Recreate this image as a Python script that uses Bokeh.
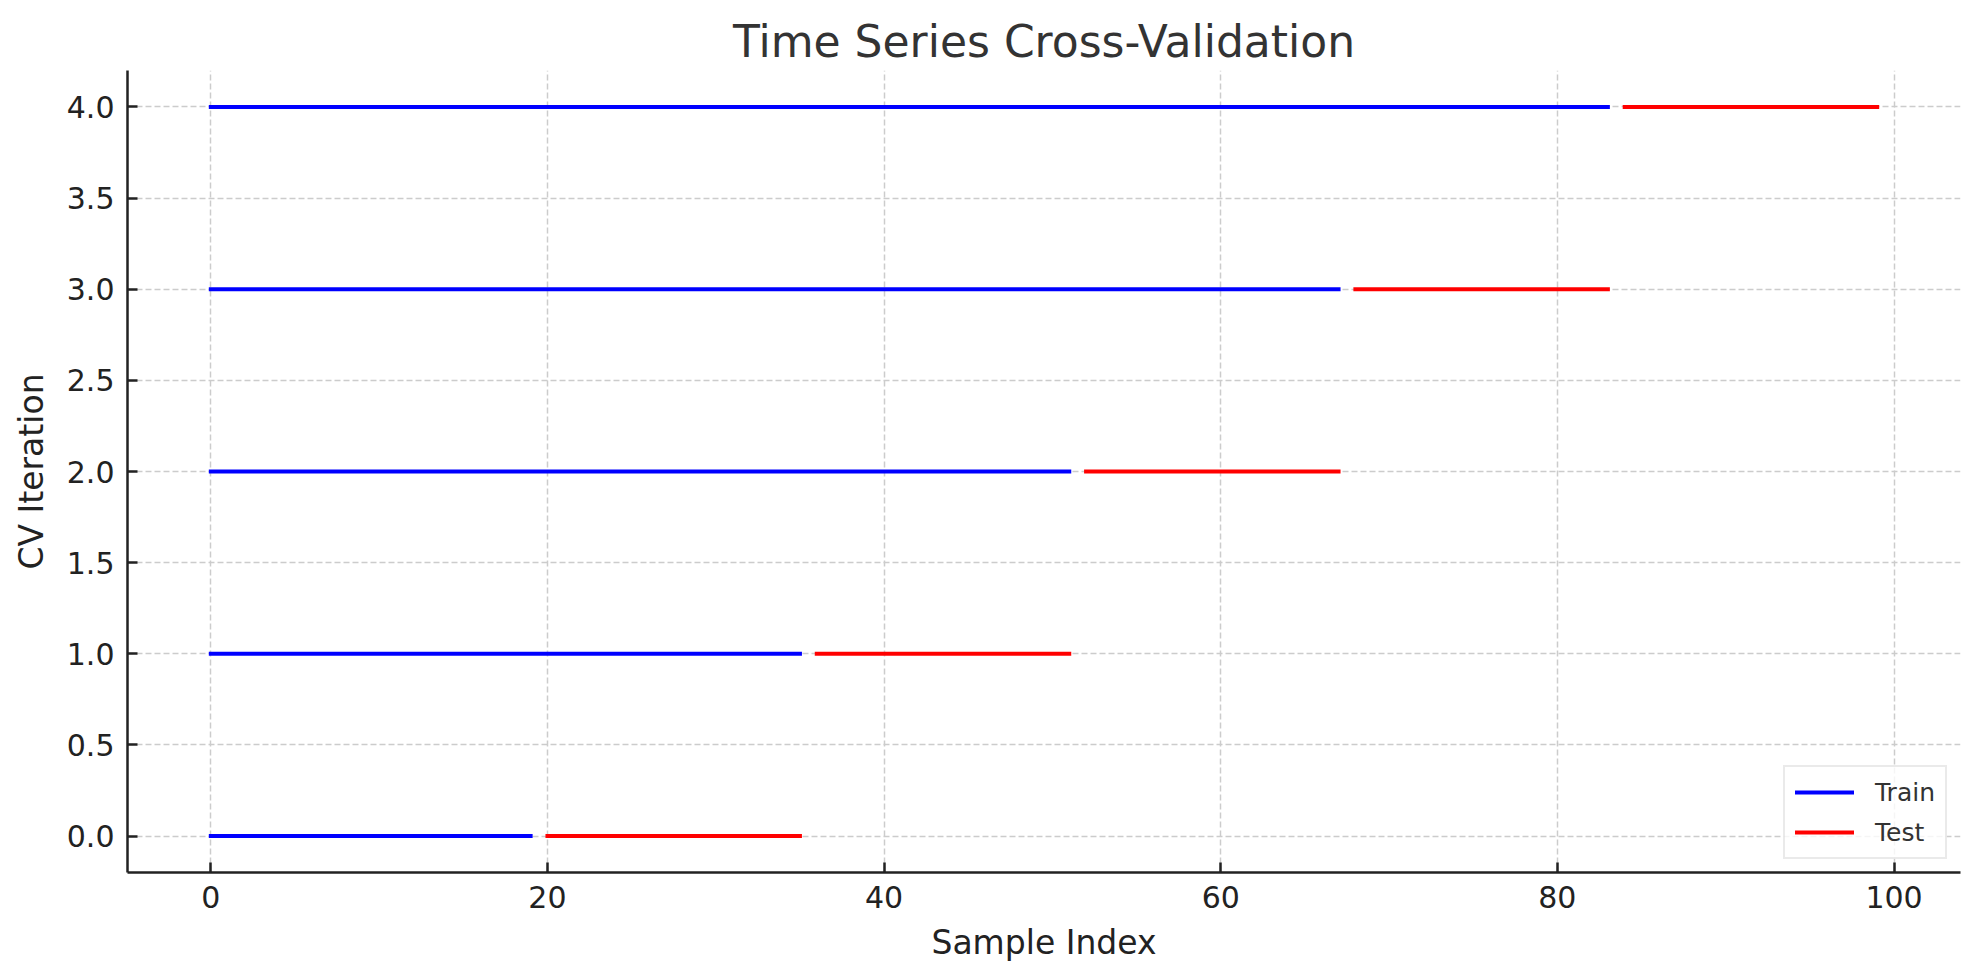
from bokeh.plotting import figure
from bokeh.models import Range1d, FixedTicker, NumeralTickFormatter
from bokeh.embed import file_html
from bokeh.resources import INLINE

# TimeSeriesSplit on 100 samples, 5 splits
iterations = [0, 1, 2, 3, 4]
train_start = [0, 0, 0, 0, 0]
train_end = [19, 35, 51, 67, 83]
test_start = [20, 36, 52, 68, 84]
test_end = [35, 51, 67, 83, 99]

x_ticks = [0, 20, 40, 60, 80, 100]
y_ticks = [0.0, 0.5, 1.0, 1.5, 2.0, 2.5, 3.0, 3.5, 4.0]

FONT = "DejaVu Sans"
INK = "#222222"

p = figure(width=1964, height=964, output_backend="svg", toolbar_location=None,
           title="Time Series Cross-Validation",
           x_range=Range1d(-4.95, 103.95), y_range=Range1d(-0.2, 4.2),
           min_border_left=127, min_border_right=4, min_border_top=70, min_border_bottom=91)

p.outline_line_color = None
p.background_fill_color = "white"

p.title.text_font = FONT
p.title.text_font_size = "44px"
p.title.text_font_style = "normal"
p.title.text_color = "#333333"
p.title.align = "center"
p.title.standoff = 8

# train / test spans
p.segment(x0=train_start, y0=iterations, x1=train_end, y1=iterations,
          line_color="blue", line_width=4, line_cap="square", legend_label="Train")
p.segment(x0=test_start, y0=iterations, x1=test_end, y1=iterations,
          line_color="red", line_width=4, line_cap="square", legend_label="Test")

p.xaxis.ticker = FixedTicker(ticks=x_ticks)
p.yaxis.ticker = FixedTicker(ticks=y_ticks)
p.yaxis.formatter = NumeralTickFormatter(format="0.0")
p.xaxis.axis_label = "Sample Index"
p.yaxis.axis_label = "CV Iteration"

for ax in (p.xaxis, p.yaxis):
    ax.axis_line_color = INK
    ax.axis_line_width = 2.5
    ax.major_tick_line_color = INK
    ax.major_tick_line_width = 2.5
    ax.major_tick_in = 10
    ax.major_tick_out = 0
    ax.minor_tick_line_color = None
    ax.major_label_text_font = FONT
    ax.major_label_text_font_size = "30px"
    ax.major_label_text_color = INK
    ax.major_label_standoff = 13
    ax.axis_label_text_font = FONT
    ax.axis_label_text_font_size = "33px"
    ax.axis_label_text_font_style = "normal"
    ax.axis_label_text_color = INK
p.xaxis.axis_label_standoff = 12
p.yaxis.axis_label_standoff = 13

p.grid.grid_line_color = "#cccccc"
p.grid.grid_line_width = 1.5
p.grid.grid_line_dash = "6 3"

lg = p.legend[0]
lg.location = "bottom_right"
lg.margin = 13
lg.padding = 10
lg.spacing = 10
lg.glyph_width = 59
lg.glyph_height = 30
lg.label_height = 30
lg.label_standoff = 21
lg.label_text_font = FONT
lg.label_text_font_size = "25px"
lg.label_text_color = "#333333"
lg.border_line_color = "#d6d6d6"
lg.border_line_width = 2
lg.background_fill_alpha = 0.8

open("out.html", "w").write(file_html(p, INLINE))
